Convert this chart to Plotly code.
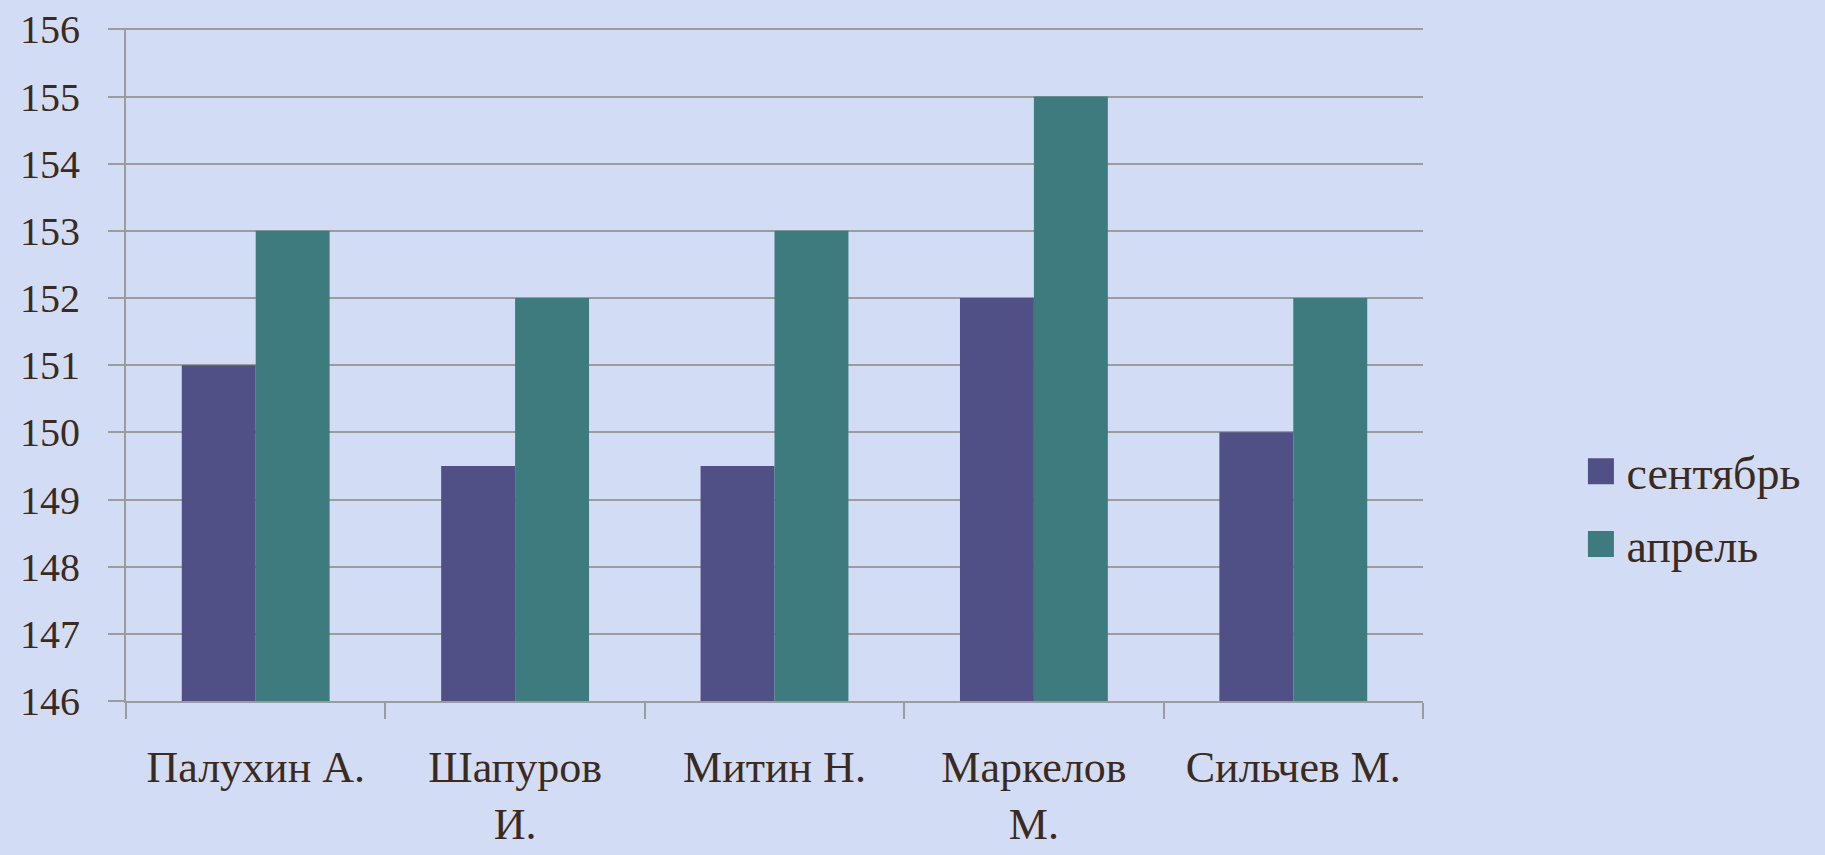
import plotly.graph_objects as go

categories = ["Палухин А.", "Шапуров<br>И.", "Митин Н.", "Маркелов<br>М.", "Сильчев М."]
september = [151, 149.5, 149.5, 152, 150]
april = [153, 152, 153, 155, 152]
series_names = ["сентябрь", "апрель"]
colors = ["#504f86", "#3e7b7f"]
y_ticks = [146, 147, 148, 149, 150, 151, 152, 153, 154, 155, 156]
BASE = 146

FONT = "Liberation Serif"
TEXT = "#3c2a1e"
GRID = "#9c9c9c"

fig = go.Figure()
for name, vals, col in zip(series_names, [september, april], colors):
    fig.add_trace(go.Bar(x=categories, y=[v - BASE for v in vals], base=BASE, name=name,
                         marker=dict(color=col, line=dict(width=0)),
                         showlegend=False, customdata=vals,
                         hovertemplate="%{x}: %{customdata}<extra>" + name + "</extra>"))
for name, col in zip(series_names, colors):
    fig.add_trace(go.Scatter(x=[None], y=[None], mode="markers", name=name, legendgroup=name,
                             marker=dict(symbol="square", size=16, color=col), showlegend=True))

fig.update_layout(
    width=1825, height=855,
    paper_bgcolor="#d2ddf5", plot_bgcolor="rgba(0,0,0,0)",
    margin=dict(l=126, r=402, t=28, b=154, autoexpand=False),
    barmode="group", bargap=0.43, bargroupgap=0,
    font=dict(family=FONT, color=TEXT, size=40),
    legend=dict(x=1.126, y=0.287, xanchor="left", yanchor="middle",
                font=dict(family=FONT, size=46, color=TEXT),
                bgcolor="rgba(0,0,0,0)", traceorder="grouped", tracegroupgap=10),
    xaxis=dict(showgrid=False, showline=True, linecolor=GRID, linewidth=2, automargin=False,
               ticks="outside", tickson="boundaries", ticklen=16, tickcolor=GRID, tickwidth=2,
               tickfont=dict(family=FONT, size=44, color=TEXT), ticklabelstandoff=26),
    yaxis=dict(range=[146, 156.02], tickvals=y_ticks, showgrid=True, gridcolor=GRID, gridwidth=2,
               showline=True, linecolor=GRID, linewidth=2, zeroline=False, automargin=False,
               ticks="outside", ticklen=16, tickcolor=GRID, tickwidth=2,
               tickfont=dict(family=FONT, size=40, color=TEXT), ticklabelstandoff=20),
)

post = """
document.body.style.margin='0';
document.querySelectorAll('.legendpoints').forEach(function(g){
  g.setAttribute('transform','translate(-18,0) scale(1.625)');
});
"""
fig.write_html("out.html", post_script=post, config={"displayModeBar": False})
